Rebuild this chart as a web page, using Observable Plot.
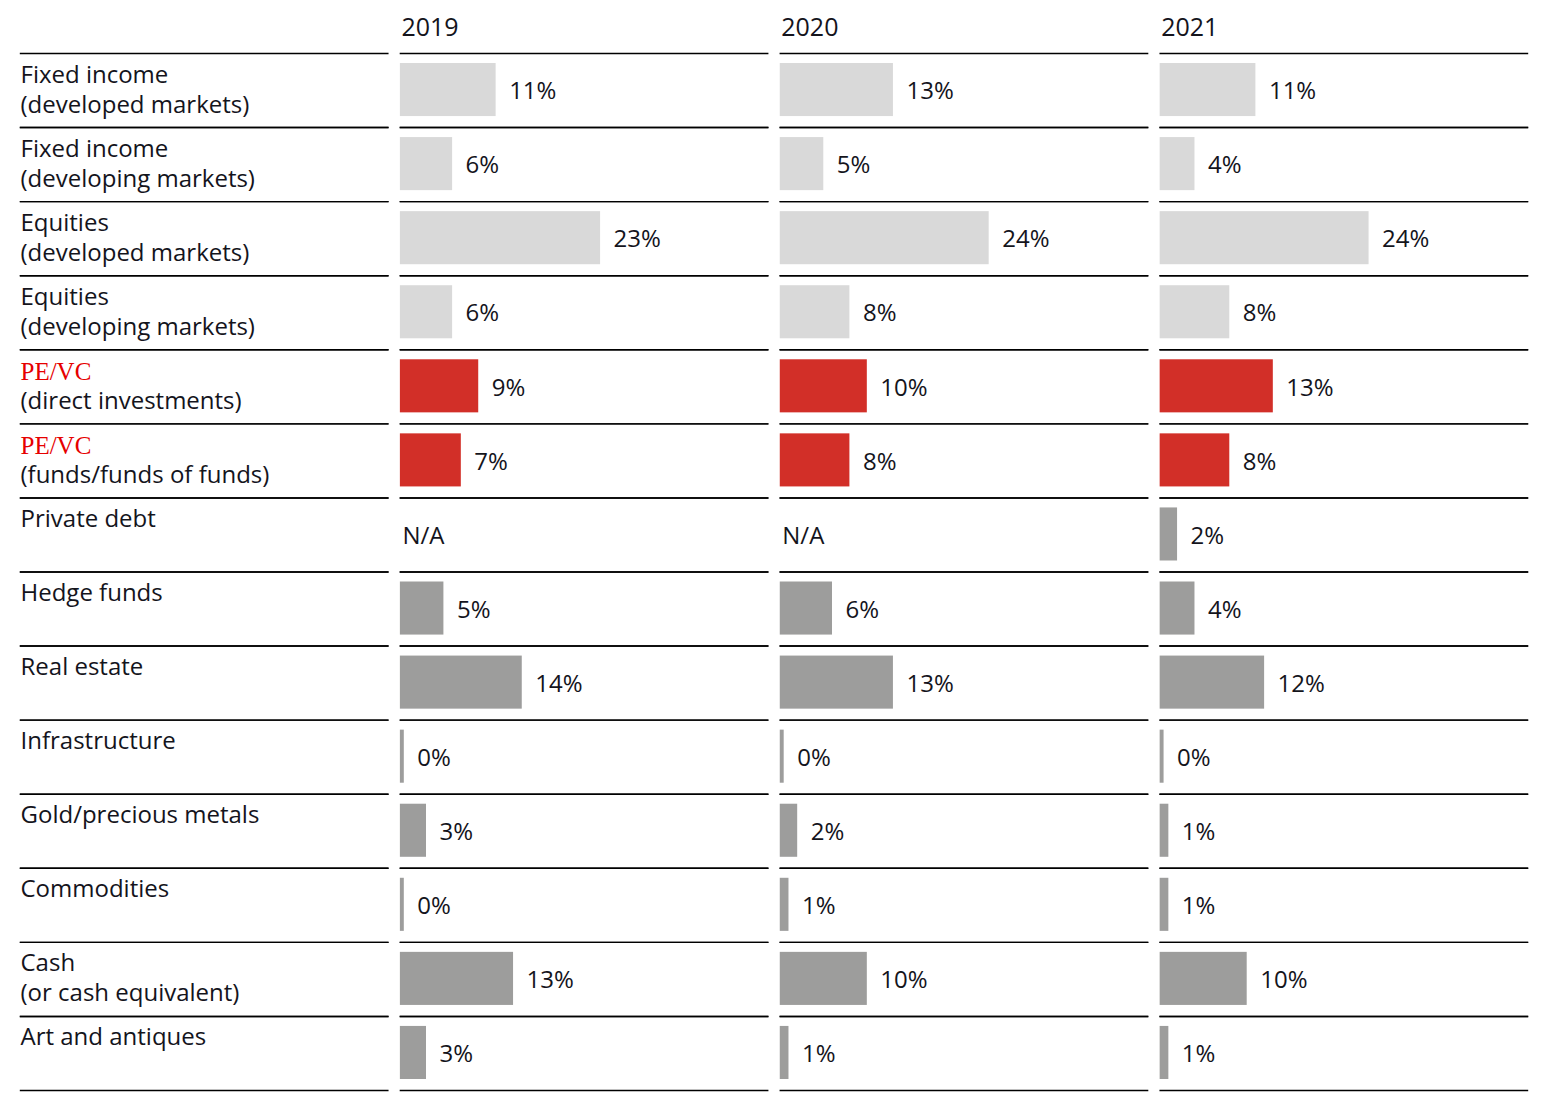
<!DOCTYPE html>
<html><head><meta charset="utf-8">
<script src="https://cdn.jsdelivr.net/npm/d3@7"></script>
<script src="https://cdn.jsdelivr.net/npm/@observablehq/plot@0.6"></script>
<style>body{margin:0;background:#fff}</style>
</head><body><div id="chart"></div>
<script>
const years = ["2019", "2020", "2021"];
const categories = [
  "Fixed income\n(developed markets)",
  "Fixed income\n(developing markets)",
  "Equities\n(developed markets)",
  "Equities\n(developing markets)",
  "PE/VC\n(direct investments)",
  "PE/VC\n(funds/funds of funds)",
  "Private debt",
  "Hedge funds",
  "Real estate",
  "Infrastructure",
  "Gold/precious metals",
  "Commodities",
  "Cash\n(or cash equivalent)",
  "Art and antiques"
];
const groups = ["traditional","traditional","traditional","traditional","pevc","pevc",
  "alternative","alternative","alternative","alternative","alternative","alternative","alternative","alternative"];
// percent shares; null = N/A; values below 0.5 are printed as 0%
const values2019 = [11, 6, 23, 6, 9, 7, null, 5, 14, 0.45, 3, 0.45, 13, 3];
const values2020 = [13, 5, 24, 8, 10, 8, null, 6, 13, 0.45, 2, 1, 10, 1];
const values2021 = [11, 4, 24, 8, 13, 8, 2, 4, 12, 0.45, 1, 1, 10, 1];
const groupNames = ["traditional", "pevc", "alternative"];
const groupColors = ["#d9d9d9", "#d22f28", "#9d9d9c"];

const valuesByYear = {"2019": values2019, "2020": values2020, "2021": values2021};
const data = [];
years.forEach(y => categories.forEach((c, i) => data.push({year: y, cat: c, group: groups[i], value: valuesByYear[y][i]})));
const present = data.filter(d => d.value != null);
const missing = data.filter(d => d.value == null);

const labels = categories.map(c => {
  const [first, second] = c.split("\n");
  return {cat: c, first, second: second || "", red: first.startsWith("PE/VC")};
});

const SANS = "'Open Sans', 'Noto Sans', sans-serif";
const TXT = "#14141c";
const FS = 24;
const FW = 400;

const chart = Plot.plot({
  width: 1546,
  height: 1112,
  marginTop: 53,
  marginBottom: 22,
  marginLeft: 20,
  marginRight: 19,
  style: {fontFamily: SANS, background: "#fff"},
  fx: {domain: ["label", ...years], paddingInner: 0.033, paddingOuter: 0, align: 0, round: false, axis: null},
  fy: {domain: categories, padding: 0, round: false, axis: null},
  x: {domain: [0, 42.2], axis: null},
  color: {domain: groupNames, range: groupColors},
  marks: [
    Plot.frame({anchor: "top", stroke: "#000", strokeWidth: 1.4}),
    Plot.frame({anchor: "bottom", stroke: "#000", strokeWidth: 1.4}),
    Plot.barX(present, {fx: "year", fy: "cat", x: "value", fill: "group", insetTop: 10, insetBottom: 11}),
    Plot.text(present, {fx: "year", fy: "cat", x: "value", text: d => d3.format(".0f")(d.value) + "%",
      textAnchor: "start", dx: 13, dy: 1, fontSize: FS, fill: TXT, fontWeight: FW}),
    Plot.text(missing, {fx: "year", fy: "cat", x: 0, text: () => "N/A",
      textAnchor: "start", dx: 2, dy: 1, fontSize: FS, fill: TXT, fontWeight: FW}),
    Plot.text(labels.filter(d => !d.red), {fx: () => "label", fy: "cat", text: "first",
      frameAnchor: "top-left", lineAnchor: "top", dy: 12, fontSize: FS, fill: TXT, fontWeight: FW}),
    Plot.text(labels.filter(d => d.red), {fx: () => "label", fy: "cat", text: "first",
      frameAnchor: "top-left", lineAnchor: "top", dy: 12, fontSize: 25, fill: "#e60000",
      fontFamily: "'Liberation Serif', 'Times New Roman', serif"}),
    Plot.text(labels, {fx: () => "label", fy: "cat", text: "second",
      frameAnchor: "top-left", lineAnchor: "top", dy: 42, fontSize: FS, fill: TXT, fontWeight: FW}),
    Plot.text(years, {fx: d => d, fy: () => categories[0], text: d => d,
      frameAnchor: "top-left", lineAnchor: "middle", dx: 1, dy: -26, fontSize: 25, fill: TXT, fontWeight: FW})
  ]
});
document.getElementById("chart").appendChild(chart);
</script>
</body></html>
